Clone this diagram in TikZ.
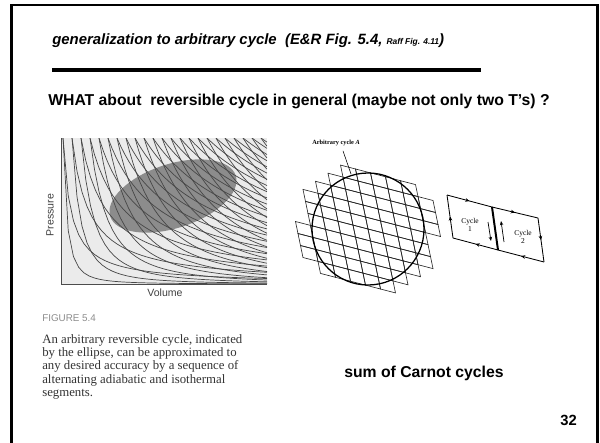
\documentclass[tikz,border=0pt]{standalone}
\usepackage{fontspec}
\setmainfont{Liberation Serif}
\setsansfont{Liberation Sans}
\usepackage{tikz}
\usetikzlibrary{
  arrows.meta,
  positioning,
  calc,
  decorations.markings,
}

\begin{document}
\begin{tikzpicture}[
  x=0.025cm, y=-0.025cm,
  font=\sffamily,
  slide/.style={font=\fontsize{11.2}{13}\selectfont\sffamily\bfseries, inner sep=0pt},
  curve/.style={draw=black!72, line width=0.5pt},
  cell/.style={draw=black!85, line width=0.45pt},
  edge/.style={draw, line width=0.6pt},
  midarrow/.style={postaction={decorate, decoration={markings,
      mark=at position 0.5 with {\arrow{Stealth[length=3pt, width=2.6pt]}}}}},
  book/.style={font=\fontsize{5.3}{5.8}\selectfont\rmfamily, align=center, inner sep=0pt},
]
  \useasboundingbox (0,0) rectangle (600,442);

  % Slide frame
  \draw[line width=1.9pt] (11.5,470) -- (11.5,5) -- (597.5,5) -- (597.5,470);

  % Heading and rule
  \node[anchor=base west, inner sep=0pt,
        font=\fontsize{10.6}{12}\selectfont\sffamily\bfseries\itshape] (title) at (52,44)
    {generalization to arbitrary cycle~~(E\&R Fig. 5.4, {\fontsize{6}{7}\selectfont Raff Fig. 4.11})};
  \coordinate (rulel) at (52,70);
  \coordinate (ruler) at (481,70);
  \draw[line width=2.2pt] (rulel) -- (ruler);
  \node[slide, anchor=base west] (what) at (48,105)
    {WHAT about~~reversible cycle in general (maybe not only two T’s) ?};

  % P-V plot with the ellipse
  \begin{scope}
    \clip (61,138) rectangle (267,284);
    \fill[black!8] (61,138) rectangle (267,284);
    \fill[black!45, rotate around={18:(173,196)}] (173,196) ellipse [x radius=66, y radius=32];
    \foreach \s in {2,11,...,200} {
      \draw[curve] plot[domain=\s:206, samples=40] ({61+\x}, {284-146*((\s+6)/(\x+6))});
      \draw[curve] plot[domain=\s:206, samples=40] ({61+\x}, {284-146*((\s+6)/(\x+6))^2});
    }
  \end{scope}
  \draw[black!70, line width=0.6pt] (61,138) -- (61,284) -- (267,284);
  \node[rotate=90, font=\fontsize{7.5}{9}\selectfont\sffamily, text=black!75] (plab) at (50,215) {Pressure};
  \node[font=\fontsize{7.5}{9}\selectfont\sffamily, text=black!75] (vlab) at (165,293) {Volume};

  % Caption of the left figure
  \node[anchor=base west, inner sep=0pt, font=\fontsize{7}{8}\selectfont\sffamily, text=black!45] (fig) at (42,321) {FIGURE 5.4};
  \node[anchor=north west, inner sep=0pt, align=left, text=black!80,
        font=\fontsize{9.1}{9.5}\selectfont\rmfamily] (cap) at (42,334)
    {An arbitrary reversible cycle, indicated\\
     by the ellipse, can be approximated to\\
     any desired accuracy by a sequence of\\
     alternating adiabatic and isothermal\\
     segments.};

  % Arbitrary cycle covered by small cycles
  \coordinate (cyc) at (368,229);
  \begin{scope}[shift={(cyc)}, x={(0.375cm,-0.0975cm)}, y={(0.0625cm,-0.3cm)}]
    \foreach \i in {-5,...,4}
      \foreach \j in {-5,...,4} {
        \pgfmathsetmacro\dd{((\i+0.5)*15+(\j+0.5)*2.5)^2+((\i+0.5)*3.9+(\j+0.5)*12)^2}
        \ifdim\dd pt<4300pt
          \draw[cell] (\i,\j) -- ++(1,0) -- ++(0,1) -- ++(-1,0) -- cycle;
        \fi
      }
  \end{scope}
  \draw[line width=0.9pt] (cyc) circle[radius=56];
  \node[font=\fontsize{4.5}{5}\selectfont\rmfamily\bfseries] (arb) at (336,143) {Arbitrary cycle \textit{A}};
  \coordinate (ptr) at (351,174);
  \draw[line width=0.4pt] ($(arb.south)+(7,0)$) -- (ptr);

  % Two neighbouring cycles
  \coordinate (c1a) at (447,195);
  \coordinate (c1b) at (492,207);
  \coordinate (c1c) at (498,250);
  \coordinate (c1d) at (453,238);
  \coordinate (c2b) at (538,218);
  \coordinate (c2c) at (544,262);
  \draw[edge, midarrow] (c1d) -- (c1a);
  \draw[edge, midarrow] (c1a) -- (c1b);
  \draw[edge, midarrow] (c1c) -- (c1d);
  \draw[edge, midarrow] (c1b) -- (c2b);
  \draw[edge, midarrow] (c2b) -- (c2c);
  \draw[edge, midarrow] (c2c) -- (c1c);
  \draw[line width=1.4pt] (c1b) -- (c1c);
  \coordinate (dn1) at (488,222);
  \coordinate (dn2) at (491,241);
  \coordinate (up1) at (504,242);
  \coordinate (up2) at (501,221);
  \draw[line width=0.5pt, -{Stealth[length=3pt, width=2.4pt]}] (dn1) -- (dn2);
  \draw[line width=0.5pt, -{Stealth[length=3pt, width=2.4pt]}] (up1) -- (up2);
  \node[book] (cyc1) at (470,225) {Cycle\\1};
  \node[book] (cyc2) at (523,237) {Cycle\\2};

  % Bottom texts
  \node[slide, anchor=base] (sum) at (424,377) {sum of Carnot cycles};
  \node[font=\fontsize{10.5}{12}\selectfont\sffamily\bfseries, anchor=base east, inner sep=0pt] (pg) at (577,425) {32};
\end{tikzpicture}
\end{document}
